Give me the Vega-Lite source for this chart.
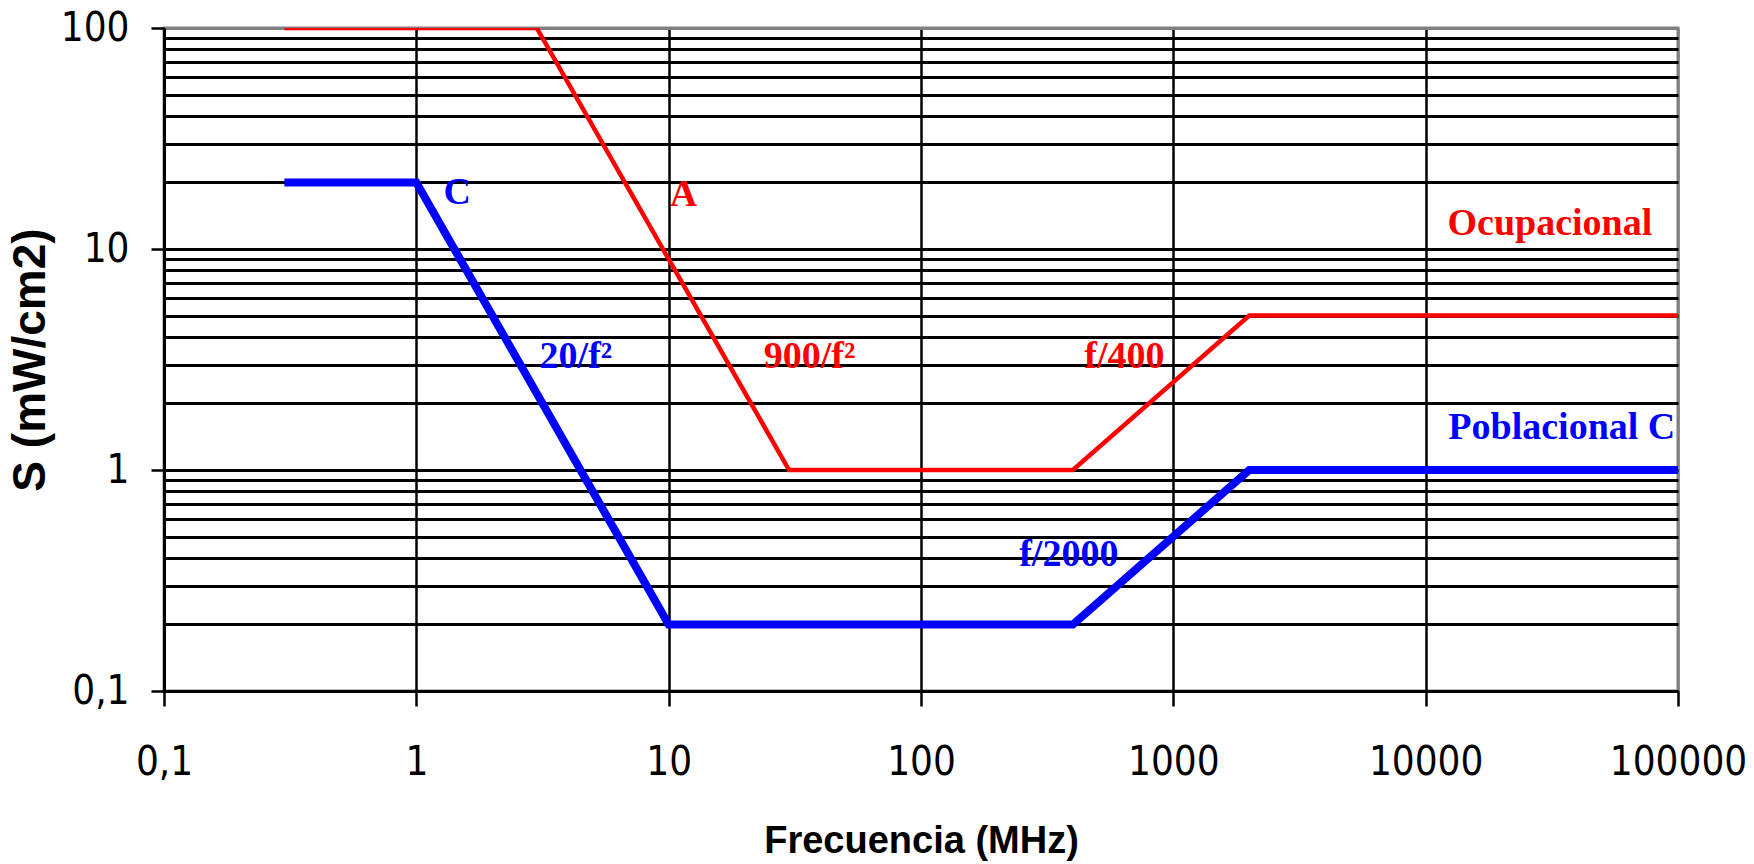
{
  "$schema": "https://vega.github.io/schema/vega-lite/v6.json",
  "width": 1514,
  "height": 663,
  "autosize": {"type": "none"},
  "padding": {"left": 164, "top": 28, "right": 76, "bottom": 173},
  "background": "white",
  "config": {
    "view": {"stroke": "#808080", "strokeWidth": 3},
    "axis": {
      "domainColor": "black",
      "domainWidth": 3,
      "tickColor": "black",
      "gridColor": "black",
      "labelColor": "black",
      "titleColor": "black",
      "labelFont": "DejaVu Sans Condensed, Liberation Sans Narrow, sans-serif",
      "labelFontSize": 40,
      "titleFont": "Liberation Sans, Arial, sans-serif",
      "titleFontWeight": "bold"
    }
  },
  "datasets": {
    "limits": [
      {"serie": "Ocupacional", "f": 0.3, "S": 100},
      {"serie": "Ocupacional", "f": 3, "S": 100},
      {"serie": "Ocupacional", "f": 30, "S": 1},
      {"serie": "Ocupacional", "f": 400, "S": 1},
      {"serie": "Ocupacional", "f": 2000, "S": 5},
      {"serie": "Ocupacional", "f": 100000, "S": 5},
      {"serie": "Poblacional", "f": 0.3, "S": 20},
      {"serie": "Poblacional", "f": 1, "S": 20},
      {"serie": "Poblacional", "f": 10, "S": 0.2},
      {"serie": "Poblacional", "f": 400, "S": 0.2},
      {"serie": "Poblacional", "f": 2000, "S": 1},
      {"serie": "Poblacional", "f": 100000, "S": 1}
    ],
    "labels": [
      {"serie": "Poblacional", "f": 1.28, "S": 17.9, "text": "C"},
      {"serie": "Ocupacional", "f": 10.1, "S": 17.6, "text": "A"},
      {"serie": "Poblacional", "f": 3.08, "S": 3.26, "text": "20/f²"},
      {"serie": "Ocupacional", "f": 23.8, "S": 3.26, "text": "900/f²"},
      {"serie": "Ocupacional", "f": 444, "S": 3.26, "text": "f/400"},
      {"serie": "Poblacional", "f": 245, "S": 0.412, "text": "f/2000"},
      {"serie": "Ocupacional", "f": 12200, "S": 13.0, "text": "Ocupacional"},
      {"serie": "Poblacional", "f": 12300, "S": 1.55, "text": "Poblacional C"}
    ]
  },
  "encoding": {
    "x": {
      "field": "f",
      "type": "quantitative",
      "scale": {"type": "log", "domain": [0.1, 100000], "nice": false},
      "axis": {
        "title": "Frecuencia (MHz)",
        "titleFontSize": 38,
        "titlePadding": 40,
        "values": [0.1, 1, 10, 100, 1000, 10000, 100000],
        "labelExpr": "datum.value < 0.5 ? '0,1' : format(datum.value, 'd')",
        "labelPadding": 36,
        "labelFlush": false,
        "labelOverlap": false,
        "tickSize": 15,
        "tickWidth": 2.5,
        "grid": true,
        "gridWidth": 2.5,
        "gridColor": {"condition": {"test": "datum.value > 50000", "value": "#808080"}, "value": "black"}
      }
    },
    "y": {
      "field": "S",
      "type": "quantitative",
      "scale": {"type": "log", "domain": [0.1, 100], "nice": false},
      "axis": {
        "title": "S (mW/cm2)",
        "titleFontSize": 46,
        "titlePadding": 6,
        "values": [0.1, 0.2, 0.3, 0.4, 0.5, 0.6, 0.7, 0.8, 0.9, 1, 2, 3, 4, 5, 6, 7, 8, 9, 10, 20, 30, 40, 50, 60, 70, 80, 90, 100],
        "labelExpr": "abs(log(datum.value)/LN10 - round(log(datum.value)/LN10)) < 0.001 ? (datum.value < 0.5 ? '0,1' : format(datum.value, 'd')) : ''",
        "labelPadding": 22,
        "labelOverlap": false,
        "labelFlush": false,
        "tickSize": 13,
        "tickWidth": 2.5,
        "tickOpacity": {"condition": {"test": "abs(log(datum.value)/LN10 - round(log(datum.value)/LN10)) < 0.001", "value": 1}, "value": 0},
        "grid": true,
        "gridWidth": 3,
        "gridColor": {"condition": {"test": "datum.value > 99", "value": "#808080"}, "value": "black"}
      }
    }
  },
  "layer": [
    {
      "data": {"name": "limits"},
      "transform": [{"filter": "datum.serie == 'Ocupacional'"}],
      "mark": {"type": "line", "color": "#FF0000", "strokeWidth": 4.5, "strokeJoin": "miter", "clip": true},
      "encoding": {"order": {"field": "f", "type": "quantitative"}}
    },
    {
      "data": {"name": "limits"},
      "transform": [{"filter": "datum.serie == 'Poblacional'"}],
      "mark": {"type": "line", "color": "#0000FF", "strokeWidth": 8, "strokeJoin": "miter", "clip": true},
      "encoding": {"order": {"field": "f", "type": "quantitative"}}
    },
    {
      "data": {"name": "labels"},
      "mark": {"type": "text", "align": "left", "baseline": "middle", "font": "Liberation Serif, Times New Roman, serif", "fontWeight": "bold", "fontSize": 38},
      "encoding": {
        "text": {"field": "text"},
        "color": {
          "field": "serie",
          "type": "nominal",
          "scale": {"domain": ["Ocupacional", "Poblacional"], "range": ["#FF0000", "#0000FF"]},
          "legend": null
        }
      }
    }
  ]
}
